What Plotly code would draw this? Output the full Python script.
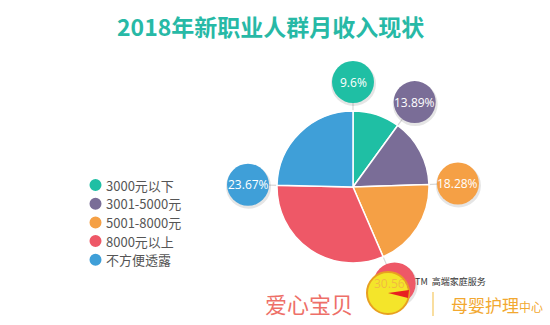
import math
import plotly.graph_objects as go

# ---- data ----
categories = ["3000元以下", "3001-5000元", "5001-8000元", "8000元以上", "不方便透露"]
values = [9.6, 13.89, 18.28, 30.56, 23.67]
labels_text = ["9.6%", "13.89%", "18.28%", "30.56%", "23.67%"]
colors = ["#1fbfa4", "#7a6d97", "#f5a045", "#ee5867", "#3f9fd8"]
title_text = "2018年新职业人群月收入现状"

W, H = 550, 325
CX, CY, R = 353, 187, 76     # pie centre / radius in pixels
D, BR = 105, 21              # bubble distance / bubble radius


def px(x):
    return x / W


def py(y):
    return 1 - y / H


fig = go.Figure()
fig.add_trace(go.Pie(
    labels=categories, values=values, sort=False, direction="clockwise", rotation=0,
    marker=dict(colors=colors, line=dict(color="white", width=1.5)),
    textinfo="none", hoverinfo="label+value", showlegend=False,
    domain=dict(x=[px(CX - R), px(CX + R)], y=[py(CY + R), py(CY - R)]),
))

shapes = []
annotations = []


def ann(x, y, text, size, color, family="Noto Sans CJK SC", xanchor="center"):
    annotations.append(dict(x=px(x), y=py(y), xref="paper", yref="paper",
                            xanchor=xanchor, yanchor="middle", text=text, showarrow=False,
                            font=dict(family=family, size=size, color=color)))


# bubbles at the start angle of each slice
total = sum(values)
cum = 0.0
for i, v in enumerate(values):
    ang = math.radians(360 * cum / total)
    cum += v
    s, c = math.sin(ang), math.cos(ang)
    bx, by = CX + D * s, CY - D * c
    shapes.append(dict(type="line", xref="paper", yref="paper",
                       x0=px(CX + (R - 2) * s), y0=py(CY - (R - 2) * c),
                       x1=px(CX + (D - BR) * s), y1=py(CY - (D - BR) * c),
                       line=dict(color="#d8d8d8", width=1.2), layer="below"))
    shapes.append(dict(type="circle", xref="paper", yref="paper",
                       x0=px(bx - BR - 1), x1=px(bx + BR + 2),
                       y0=py(by + BR + 3), y1=py(by - BR + 1),
                       fillcolor="rgba(0,0,0,0.10)", line=dict(width=0)))
    shapes.append(dict(type="circle", xref="paper", yref="paper",
                       x0=px(bx - BR), x1=px(bx + BR), y0=py(by + BR), y1=py(by - BR),
                       fillcolor=colors[i], line=dict(width=0)))
    # the 8000元以上 label is hidden under the watermark logo in the reference
    tcol = "rgba(238,100,110,0.35)" if i == 3 else "white"
    ann(bx, by, labels_text[i], 12, tcol, family="Open Sans")

# legend
for i, cat in enumerate(categories):
    ly = 185 + i * 18.7
    shapes.append(dict(type="circle", xref="paper", yref="paper",
                       x0=px(89.5), x1=px(101.5), y0=py(ly + 6), y1=py(ly - 6),
                       fillcolor=colors[i], line=dict(width=0)))
    ann(104, ly, cat, 13, "#555555", xanchor="left")

# title
ann(270, 26, "<b>" + title_text + "</b>", 23, "#27b9a6")

# watermark
LX, LY, LR = 388, 293, 21
shapes.append(dict(type="circle", xref="paper", yref="paper",
                   x0=px(LX - LR), x1=px(LX + LR), y0=py(LY + LR), y1=py(LY - LR),
                   fillcolor="#f4e52a", line=dict(color="#e8a020", width=2)))
shapes.append(dict(type="path", xref="paper", yref="paper",
                   path=f"M {px(LX)} {py(LY)} L {px(LX+LR)} {py(LY-3)} L {px(LX+LR-1)} {py(LY+5)} Z",
                   fillcolor="#e82020", line=dict(width=0)))
shapes.append(dict(type="line", xref="paper", yref="paper",
                   x0=px(433), x1=px(433), y0=py(292), y1=py(316),
                   line=dict(color="#f5c860", width=1.2)))
ann(309, 303, "爱心宝贝", 22, "#ee6f68")
ann(413, 281, "TM  高端家庭服务", 9, "#333333", xanchor="left")
ann(449, 304, "母婴护理<span style='font-size:12px'>中心</span>", 17, "#f2a830", xanchor="left")

fig.update_layout(width=W, height=H, margin=dict(l=0, r=0, t=0, b=0),
                  paper_bgcolor="white", plot_bgcolor="white",
                  shapes=shapes, annotations=annotations, showlegend=False)

fig.write_html("out.html")
